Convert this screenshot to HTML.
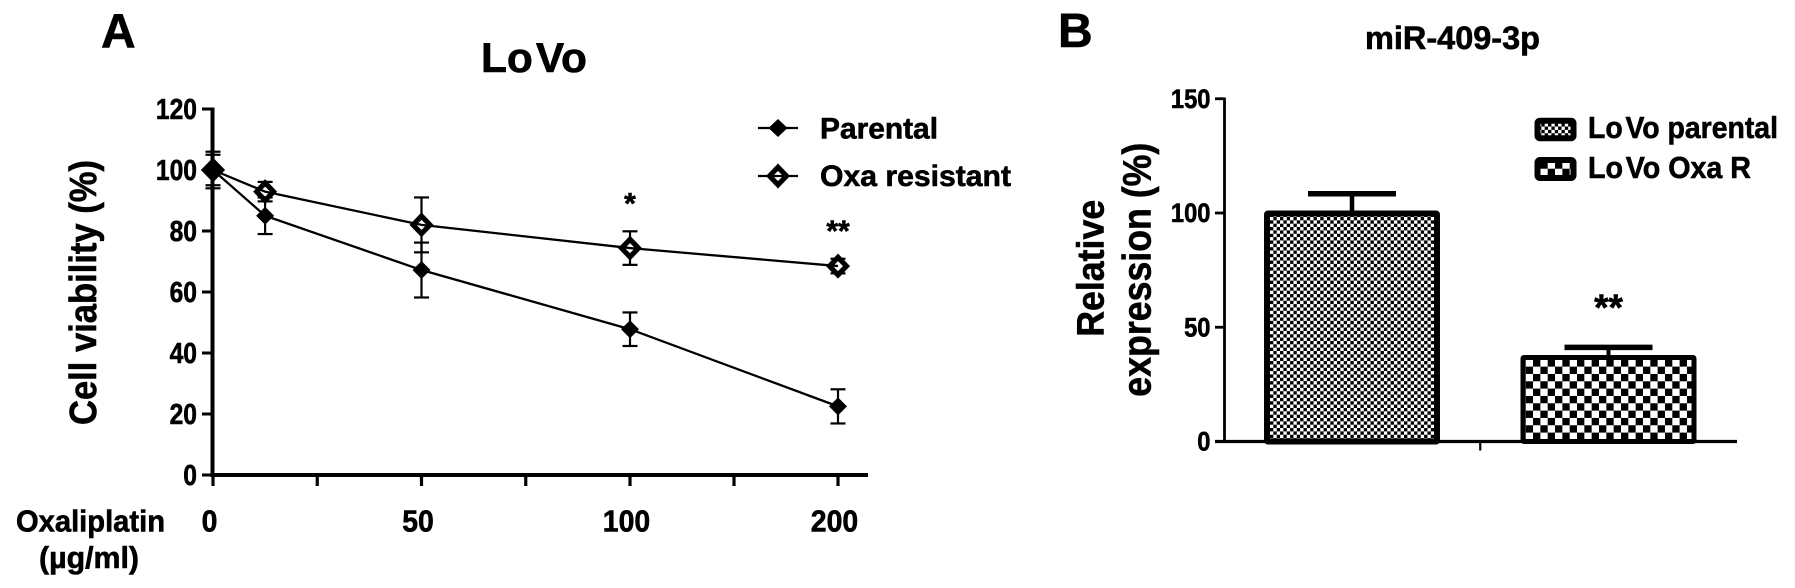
<!DOCTYPE html>
<html lang="en">
<head>
<meta charset="utf-8">
<title>LoVo cell viability and miR-409-3p expression</title>
<style>
html,body{margin:0;padding:0;background:#fff;}
svg{display:block;}
text{font-family:"Liberation Sans",Arial,sans-serif;font-weight:bold;fill:#000;stroke:#000;stroke-width:0.6px;}
</style>
</head>
<body>
<svg id="figure" xmlns="http://www.w3.org/2000/svg" width="1795" height="588" viewBox="0 0 1795 588">
  <defs>
    <pattern id="fine-check" patternUnits="userSpaceOnUse" x="1270" y="217" width="6.7" height="6.7">
      <rect width="6.7" height="6.7" fill="#fff"/>
      <rect x="3.35" width="3.35" height="3.35" fill="#000"/>
      <rect y="3.35" width="3.35" height="3.35" fill="#000"/>
    </pattern>
    <pattern id="coarse-check" patternUnits="userSpaceOnUse" x="1525.7" y="359.3" width="14.66" height="14.66">
      <rect width="14.66" height="14.66" fill="#fff"/>
      <rect x="7.33" width="7.33" height="7.33" fill="#000"/>
      <rect y="7.33" width="7.33" height="7.33" fill="#000"/>
    </pattern>
  </defs>
  <rect width="1795" height="588" fill="#fff"/>

  <text x="101" y="47.7" font-size="48">A</text>
  <text x="481" y="72" font-size="42" textLength="106" lengthAdjust="spacingAndGlyphs">Lo<tspan dx="3">Vo</tspan></text>
  <text transform="translate(96,292.5) rotate(-90)" text-anchor="middle" font-size="38" textLength="265" lengthAdjust="spacingAndGlyphs">Cell viability (%)</text>
  <text x="16" y="531.7" font-size="31" textLength="149" lengthAdjust="spacingAndGlyphs">Oxaliplatin</text>
  <text x="39" y="568" font-size="31" textLength="100" lengthAdjust="spacingAndGlyphs">(µg/ml)</text>

  <g>
    <g>
      <line x1="758" y1="128" x2="798" y2="128" stroke="#000" stroke-width="2.2"/>
      <polygon points="778,119 787.5,128 778,137 768.5,128" fill="#000"/>
      <text x="820" y="138.3" font-size="30" textLength="118" lengthAdjust="spacingAndGlyphs">Parental</text>
    </g>
    <g>
      <polygon points="778,163.5 790,176 778,188.5 766,176" fill="#000"/>
      <polygon points="778,171 783,176 778,181 773,176" fill="#fff"/>
      <line x1="758" y1="176" x2="798" y2="176" stroke="#000" stroke-width="2.2"/>
      <text x="820" y="186" font-size="30" textLength="191" lengthAdjust="spacingAndGlyphs">Oxa resistant</text>
    </g>
  </g>

  <text x="1058" y="47" font-size="48">B</text>
  <text x="1365" y="49" font-size="32" textLength="175" lengthAdjust="spacingAndGlyphs">miR-409-3p</text>
  <text transform="translate(1103.3,268.3) rotate(-90)" text-anchor="middle" font-size="38" textLength="137" lengthAdjust="spacingAndGlyphs">Relative</text>
  <text transform="translate(1150.7,269.7) rotate(-90)" text-anchor="middle" font-size="40" textLength="254" lengthAdjust="spacingAndGlyphs">expression (%)</text>

  <g>
    <g>
      <rect x="1537.5" y="120.7" width="36" height="17.5" rx="2.5" fill="url(#fine-check)" stroke="#000" stroke-width="6"/>
      <text x="1588" y="138" font-size="31" textLength="190" lengthAdjust="spacingAndGlyphs">Lo<tspan dx="3">Vo</tspan> parental</text>
    </g>
    <g>
      <rect x="1537.5" y="160" width="36" height="18" rx="2.5" fill="url(#coarse-check)" stroke="#000" stroke-width="6"/>
      <text x="1588" y="178" font-size="31" textLength="163" lengthAdjust="spacingAndGlyphs">Lo<tspan dx="3">Vo</tspan> Oxa R</text>
    </g>
  </g>

  <g id="chart-a"></g>
  <g id="chart-b"></g>
</svg>

<script>
// Panel A data
const doses = [0, 12.5, 50, 100, 200];
const parentalValues = [100, 85, 67.2, 47.8, 22.5];
const parentalErrors = [6, 6, 9, 5.5, 5.6];
const resistantValues = [100, 92.9, 82, 74.4, 68.5];
const resistantErrors = [5, 3.2, 9, 5.5, 2.4];
const xTickDoses = [0, 25, 50, 75, 100, 150, 200];
const xLabelDoses = [0, 50, 100, 200];
const yTickValues = [0, 20, 40, 60, 80, 100, 120];
const significanceDoses = [100, 200];
const significanceLabels = ['*', '**'];

// Panel B data
const barCategories = ['LoVo parental', 'LoVo Oxa R'];
const barValues = [100, 37];
const barErrors = [8.4, 4.2];
const barYTickValues = [0, 50, 100, 150];
const barSignificance = ['', '**'];

const NS = 'http://www.w3.org/2000/svg';
const chartA = document.getElementById('chart-a');
const chartB = document.getElementById('chart-b');

function make(parent, tag, props) {
  const el = document.createElementNS(NS, tag);
  for (const key in props) el.setAttribute(key, props[key]);
  parent.appendChild(el);
  return el;
}

// Panel A axis functions (the dose axis is compressed above 100)
function xA(d) { return d <= 100 ? 213 + d * 4.17 : 630 + (d - 100) * 2.08; }
function yA(v) { return 475 - v * 3.05; }

const yAxisA = make(chartA, 'line', {x1: 212.5, y1: yA(120) - 1.5, x2: 212.5, y2: yA(0) + 2, stroke: '#000', 'stroke-width': 4});



const xAxisA = make(chartA, 'line', {x1: 211, y1: yA(0), x2: 868, y2: yA(0), stroke: '#000', 'stroke-width': 4});



yTickValues.forEach(function (v) {
  const tick = make(chartA, 'line', {x1: 202, y1: yA(v), x2: 212, y2: yA(v), stroke: '#000', 'stroke-width': 3});
  
  
  const s = String(v);
  const label = make(chartA, 'text', {x: 197, y: yA(v) + 10, 'text-anchor': 'end', 'font-size': 29, textLength: s.length * 13.7, lengthAdjust: 'spacingAndGlyphs'});
  label.textContent = s;
  
  
});

xTickDoses.forEach(function (d) {
  const tick = make(chartA, 'line', {x1: xA(d), y1: yA(0), x2: xA(d), y2: yA(0) + 11, stroke: '#000', 'stroke-width': 3.2});
  
  
});

xLabelDoses.forEach(function (d) {
  const s = String(d);
  const label = make(chartA, 'text', {x: xA(d) - 3.5, y: 531.7, 'text-anchor': 'middle', 'font-size': 31, textLength: s.length * 15.8, lengthAdjust: 'spacingAndGlyphs'});
  label.textContent = s;
  
  
});

function drawErrors(values, errors, name) {
  doses.forEach(function (d, i) {
    const px = xA(d);
    const top = yA(values[i] + errors[i]);
    const bottom = yA(values[i] - errors[i]);
    const stem = make(chartA, 'line', {x1: px, y1: top, x2: px, y2: bottom, stroke: '#000', 'stroke-width': 2.2});
    
    
    const capTop = make(chartA, 'line', {x1: px - 7.5, y1: top, x2: px + 7.5, y2: top, stroke: '#000', 'stroke-width': 2.2});
    
    
    const capBottom = make(chartA, 'line', {x1: px - 7.5, y1: bottom, x2: px + 7.5, y2: bottom, stroke: '#000', 'stroke-width': 2.2});
    
    
  });
}

function diamond(px, py, rx, ry) {
  return px + ',' + (py - ry) + ' ' + (px + rx) + ',' + py + ' ' + px + ',' + (py + ry) + ' ' + (px - rx) + ',' + py;
}

function linePoints(values) {
  return doses.map(function (d, i) { return xA(d) + ',' + yA(values[i]); }).join(' ');
}

// Oxa resistant series
drawErrors(resistantValues, resistantErrors, 'resistant');
doses.forEach(function (d, i) {
  const outer = make(chartA, 'polygon', {points: diamond(xA(d), yA(resistantValues[i]), 12, 12.5), fill: '#000'});
  
  
  const inner = make(chartA, 'polygon', {points: diamond(xA(d), yA(resistantValues[i]), 5, 5), fill: '#fff'});
  
  
});
const resistantLine = make(chartA, 'polyline', {points: linePoints(resistantValues), fill: 'none', stroke: '#000', 'stroke-width': 2.3});



// Parental series
drawErrors(parentalValues, parentalErrors, 'parental');
const parentalLine = make(chartA, 'polyline', {points: linePoints(parentalValues), fill: 'none', stroke: '#000', 'stroke-width': 2.3});


doses.forEach(function (d, i) {
  const r = d === 0 ? 12 : 9;
  const point = make(chartA, 'polygon', {points: diamond(xA(d), yA(parentalValues[i]), r, r), fill: '#000'});
  
  
});

significanceDoses.forEach(function (d, i) {
  const idx = doses.indexOf(d);
  const star = make(chartA, 'text', {x: xA(d), y: yA(resistantValues[idx] + resistantErrors[idx]) - 18, 'text-anchor': 'middle', 'font-size': 30});
  star.textContent = significanceLabels[i];
  
  
});

// Panel B axis functions
function yB(v) { return 441.5 - v * 2.285; }
function xB(i) { return 1352 + i * 256.5; }

const barStyles = [
  {fill: 'url(#fine-check)', border: 6, stem: 4.5},
  {fill: 'url(#coarse-check)', border: 5, stem: 4}
];

barCategories.forEach(function (name, i) {
  const c = xB(i);
  const s = barStyles[i];
  const top = yB(barValues[i] + barErrors[i]);
  const stem = make(chartB, 'line', {x1: c, y1: top, x2: c, y2: yB(barValues[i]), stroke: '#000', 'stroke-width': s.stem});
  
  
  const cap = make(chartB, 'line', {x1: c - 44, y1: top, x2: c + 44, y2: top, stroke: '#000', 'stroke-width': 5.5});
  
  
  const half = 88 - s.border / 2;
  const barTop = yB(barValues[i]) + 0.5;
  const bar = make(chartB, 'rect', {x: c - half, y: barTop, width: half * 2, height: yB(0) - barTop, fill: s.fill, stroke: '#000', 'stroke-width': s.border, rx: 1});
  
  
  if (barSignificance[i]) {
    const star = make(chartB, 'text', {x: c, y: top - 27.5, 'text-anchor': 'middle', 'font-size': 37});
    star.textContent = barSignificance[i];
    
    
  }
});

const yAxisB = make(chartB, 'line', {x1: 1224.5, y1: yB(150) - 1.3, x2: 1224.5, y2: yB(0), stroke: '#000', 'stroke-width': 2.8});



const xAxisB = make(chartB, 'line', {x1: 1215, y1: yB(0), x2: 1737, y2: yB(0), stroke: '#000', 'stroke-width': 3.2});



const xTickB = make(chartB, 'line', {x1: (xB(0) + xB(1)) / 2, y1: yB(0), x2: (xB(0) + xB(1)) / 2, y2: yB(0) + 9, stroke: '#000', 'stroke-width': 2.2});



barYTickValues.forEach(function (v) {
  const tick = make(chartB, 'line', {x1: 1215, y1: yB(v), x2: 1224, y2: yB(v), stroke: '#000', 'stroke-width': 2.8});
  
  
  const s = String(v);
  const label = make(chartB, 'text', {x: 1210.5, y: yB(v) + 9, 'text-anchor': 'end', 'font-size': 27, textLength: s.length * 13.2, lengthAdjust: 'spacingAndGlyphs'});
  label.textContent = s;
  
  
});
</script>
</body>
</html>
